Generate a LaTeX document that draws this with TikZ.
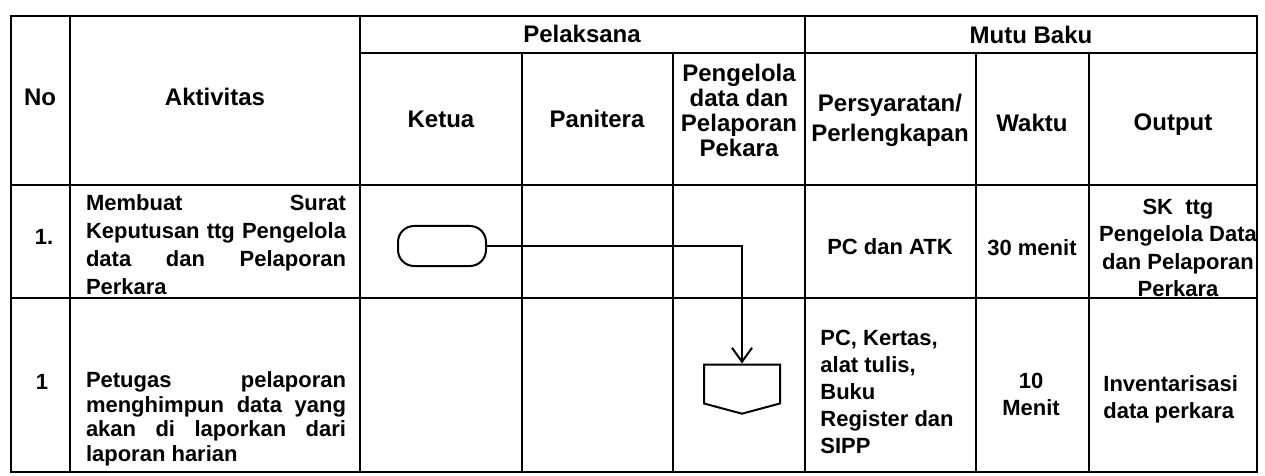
\documentclass[tikz,border=0pt]{standalone}
\usepackage{fontspec}
\setmainfont{Liberation Sans}
\usetikzlibrary{positioning,arrows.meta,shapes.symbols}

\begin{document}
\begin{tikzpicture}[
    x=0.5pt, y=-0.5pt,
    gridLine/.style={line width=1.4pt, draw=black},
    headCell/.style={font=\fontsize{12}{12.5}\selectfont\bfseries, align=center, inner sep=0pt},
    bodyCell/.style={font=\fontsize{11}{13.5}\selectfont\bfseries, align=center, inner sep=0pt},
    actText/.style={font=\fontsize{11}{14}\selectfont\bfseries, align=justify, text width=130pt, inner sep=0pt},
    termShape/.style={draw, line width=1pt, rounded corners=8pt, minimum width=44pt, minimum height=20pt},
    offPage/.style={draw, line width=1pt, signal, signal to=south, signal from=nowhere, signal pointer angle=150, minimum width=38pt, minimum height=19.5pt, inner sep=0pt},
    arrowStyle/.style={-{Straight Barb[length=7pt,width=10pt]}, line width=1pt}
]
    \useasboundingbox (0,0) rectangle (1265,476);

    \draw[gridLine] (11,16) rectangle (1257,472);
    \draw[gridLine] (360,53) -- (1257,53);
    \draw[gridLine] (11,185) -- (1257,185);
    \draw[gridLine] (11,298) -- (1257,298);
    \foreach \xcol in {70,360,805}
        \draw[gridLine] (\xcol,16) -- (\xcol,472);
    \foreach \xcol in {522,673,976,1089}
        \draw[gridLine] (\xcol,53) -- (\xcol,472);

    \node[headCell] (hNo) at (40,97) {No};
    \node[headCell] (hAkt) at (215,97) {Aktivitas};
    \node[headCell] (hPel) at (582,34) {Pelaksana};
    \node[headCell] (hMutu) at (1031,35) {Mutu Baku};
    \node[headCell] (hKetua) at (441,119) {Ketua};
    \node[headCell] (hPan) at (597,119) {Panitera};
    \node[headCell] (hPeng) at (739,110) {Pengelola\\data dan\\Pelaporan\\Pekara};
    \node[headCell] (hSyarat) at (890,120) {Persyaratan/\\[2.5pt]Perlengkapan};
    \node[headCell] (hWaktu) at (1032,123) {Waktu};
    \node[headCell] (hOut) at (1173,125) {Output};

    \node[bodyCell] (no1) at (44,237) {1.};
    \node[actText] (akt1) at (216,245) {Membuat Surat\linebreak Keputusan ttg Pengelola\linebreak data dan Pelaporan\linebreak Perkara};
    \node[bodyCell] (syarat1) at (890,247) {PC dan ATK};
    \node[bodyCell] (waktu1) at (1032,248) {30 menit};
    \node[bodyCell, font=\fontsize{11}{13.75}\selectfont\bfseries] (out1) at (1178,248) {SK\ \ ttg\\Pengelola Data\\dan Pelaporan\\Perkara};

    \node[termShape] (start) at (442,246) {};
    \node[offPage] (doc2) at (742,384) {};
    \draw[arrowStyle] (start.east) -| (doc2.north);

    \node[bodyCell] (no2) at (42,382) {1};
    \node[actText, font=\fontsize{11}{12.3}\selectfont\bfseries] (akt2) at (216,419) {Petugas pelaporan\linebreak menghimpun data yang\linebreak akan di laporkan dari\linebreak laporan harian};
    \node[bodyCell, align=left, anchor=west] (syarat2) at (820,392) {PC, Kertas,\\alat tulis,\\Buku\\Register dan\\SIPP};
    \node[bodyCell] (waktu2) at (1031,394) {10\\Menit};
    \node[bodyCell, align=left, anchor=west] (out2) at (1103,399) {Inventarisasi\\data perkara};
\end{tikzpicture}
\end{document}
